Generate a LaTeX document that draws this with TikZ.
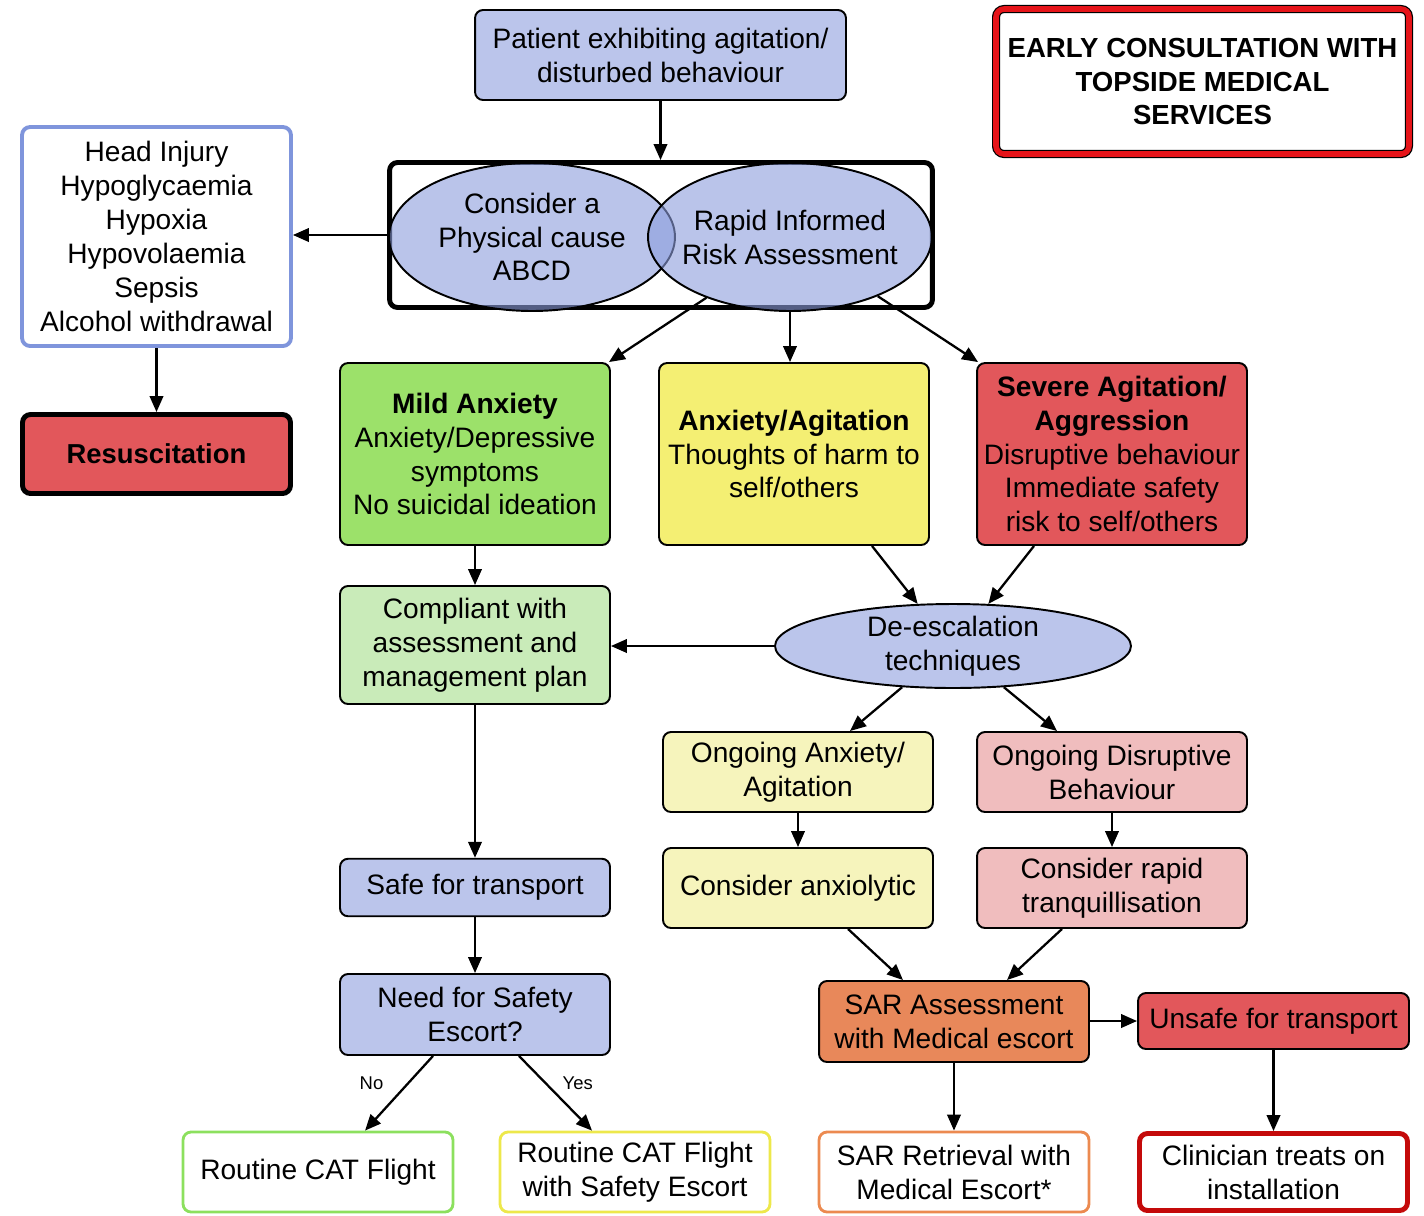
\documentclass[tikz,border=0pt]{standalone}
\usepackage{fontspec}
\setmainfont{Liberation Sans}
\usetikzlibrary{arrows.meta,shapes.geometric,calc}
\definecolor{lav}{RGB}{187,197,235}
\definecolor{ellc}{RGB}{140,157,220}
\definecolor{mgreen}{RGB}{156,225,106}
\definecolor{myellow}{RGB}{244,239,115}
\definecolor{mred}{RGB}{226,87,91}
\definecolor{lgreen}{RGB}{201,235,185}
\definecolor{lyellow}{RGB}{246,244,188}
\definecolor{pink}{RGB}{240,189,190}
\definecolor{morange}{RGB}{232,136,90}
\definecolor{bborder}{RGB}{127,149,220}
\definecolor{gborder}{RGB}{140,224,94}
\definecolor{yborder}{RGB}{237,232,75}
\definecolor{oborder}{RGB}{236,138,80}
\definecolor{dred}{RGB}{196,10,10}
\definecolor{ered}{RGB}{230,20,25}
\tikzset{
  every node/.style={font=\fontsize{16}{19.3}\selectfont},
  box/.style={draw=black, line width=1.1pt, rounded corners=0.16cm, align=center, inner sep=2pt, minimum width=5.4cm},
  ell/.style={ellipse, draw=black, line width=1.1pt, fill=ellc, fill opacity=0.6, text opacity=1, align=center, inner xsep=-20pt, inner ysep=-4pt},
  arr/.style={line width=1.3pt, -{Triangle[length=0.32cm,width=0.27cm]}},
  lbl/.style={font=\fontsize{10.5}{12}\selectfont}
}
\begin{document}
\begin{tikzpicture}[x=0.02cm,y=-0.02cm]
\useasboundingbox (0,0) rectangle (1424,1215);

% top
\node[box, fill=lav, minimum width=7.42cm, minimum height=1.8cm] (pat) at (660.5,55) {Patient exhibiting agitation/\\disturbed behaviour};
\node[box, draw=black, double=ered, double distance=3.2pt, line width=0.7pt, fill=white, minimum width=8.26cm, minimum height=2.9cm, font=\fontsize{15.7}{19.3}\selectfont\bfseries] (early) at (1202.5,81.5) {EARLY CONSULTATION WITH\\TOPSIDE MEDICAL\\SERVICES};

% venn box
\node[draw=black, line width=2.8pt, rounded corners=0.16cm, minimum width=10.86cm, minimum height=2.9cm] (big) at (661,235) {};
\node[ell, minimum width=5.72cm, minimum height=2.96cm] (le) at (532,237) {Consider a\\Physical cause\\ABCD};
\node[ell, minimum width=5.68cm, minimum height=2.96cm] (re) at (790,237) {Rapid Informed\\Risk Assessment};

% left column
\node[box, draw=bborder, line width=2.2pt, fill=white, minimum width=5.38cm, minimum height=4.38cm] (list) at (156.5,236.5) {Head Injury\\Hypoglycaemia\\Hypoxia\\Hypovolaemia\\Sepsis\\Alcohol withdrawal};
\node[box, line width=2.8pt, fill=mred, minimum width=5.36cm, minimum height=1.58cm, font=\fontsize{15.6}{19}\selectfont\bfseries] (resus) at (156.5,454) {Resuscitation};

% severity row
\node[box, fill=mgreen, minimum width=5.4cm, minimum height=3.64cm] (mild) at (475,454) {\textbf{Mild Anxiety}\\Anxiety/Depressive\\symptoms\\No suicidal ideation};
\node[box, fill=myellow, minimum width=5.4cm, minimum height=3.64cm] (anx) at (794,454) {\textbf{Anxiety/Agitation}\\Thoughts of harm to\\self/others};
\node[box, fill=mred, minimum width=5.4cm, minimum height=3.64cm] (sev) at (1112,454) {\textbf{Severe Agitation/}\\\textbf{Aggression}\\Disruptive behaviour\\Immediate safety\\risk to self/others};

% middle
\node[box, fill=lgreen, minimum height=2.36cm] (comp) at (475,645) {Compliant with\\assessment and\\management plan};
\node[ell, fill=lav, fill opacity=1, minimum width=7.12cm, minimum height=1.68cm] (de) at (953,646) {De-escalation\\techniques};
\node[box, fill=lyellow, minimum height=1.6cm] (oanx) at (798,772) {Ongoing Anxiety/\\Agitation};
\node[box, fill=pink, minimum height=1.6cm] (odis) at (1112,772) {Ongoing Disruptive\\Behaviour};
\node[box, fill=lav, minimum height=1.15cm] (safe) at (475,887.5) {Safe for transport};
\node[box, fill=lyellow, minimum height=1.6cm] (axl) at (798,888) {Consider anxiolytic};
\node[box, fill=pink, minimum height=1.6cm] (rap) at (1112,888) {Consider rapid\\tranquillisation};
\node[box, fill=lav, minimum height=1.62cm] (need) at (475,1014.5) {Need for Safety\\Escort?};
\node[box, fill=morange, minimum height=1.62cm] (sar) at (954,1021.5) {SAR Assessment\\with Medical escort};
\node[box, fill=mred, minimum width=5.42cm, minimum height=1.12cm] (unsafe) at (1273.5,1021) {Unsafe for transport};

% bottom row
\node[box, draw=gborder, line width=1.6pt, fill=white, minimum height=1.6cm] (rcat) at (318,1172) {Routine CAT Flight};
\node[box, draw=yborder, line width=1.6pt, fill=white, minimum height=1.6cm] (rcate) at (635,1172) {Routine CAT Flight\\with Safety Escort};
\node[box, draw=oborder, line width=1.6pt, fill=white, minimum height=1.6cm] (sarr) at (954,1172) {SAR Retrieval with\\Medical Escort*};
\node[box, draw=dred, line width=2.8pt, fill=white, minimum width=5.36cm, minimum height=1.54cm] (clin) at (1273.5,1172) {Clinician treats on\\installation};

% connectors
\draw[arr] (pat.south) -- (pat.south |- big.north);
\draw[arr] (big.west) -- (list.east |- big.west);
\draw[arr] (list.south) -- (resus.north);
\draw[arr] (re.-144) -- ($(mild.north east)+(-2,0)$);
\draw[arr] (re.south) -- (re.south |- anx.north);
\draw[arr] (re.-34) -- ($(sev.north west)+(2,0)$);
\draw[arr] ($(anx.south)+(78,0)$) -- (de.130);
\draw[arr] ($(sev.south)+(-78,0)$) -- (de.50);
\draw[arr] (mild.south) -- (comp.north);
\draw[arr] (de.west) -- (comp.east |- de.west);
\draw[arr] (comp.south) -- (safe.north);
\draw[arr] (de.-141) -- ($(oanx.north)+(52,0)$);
\draw[arr] (de.-39) -- ($(odis.north)+(-55,0)$);
\draw[arr] (oanx.south) -- (axl.north);
\draw[arr] (odis.south) -- (rap.north);
\draw[arr] ($(axl.south)+(50,0)$) -- ($(sar.north)+(-51,0)$);
\draw[arr] ($(rap.south)+(-50,0)$) -- ($(sar.north)+(53,0)$);
\draw[arr] (safe.south) -- (need.north);
\draw[arr] ($(need.south)+(-42,0)$) -- node[lbl, left=10pt, pos=0.37] {No} ($(rcat.north)+(47,0)$);
\draw[arr] ($(need.south)+(44,0)$) -- node[lbl, right=5.5pt, pos=0.37] {Yes} ($(rcate.north)+(-43,0)$);
\draw[arr] (sar.east |- unsafe.west) -- (unsafe.west);
\draw[arr] (sar.south) -- (sarr.north);
\draw[arr] (unsafe.south) -- (clin.north);
\end{tikzpicture}
\end{document}
